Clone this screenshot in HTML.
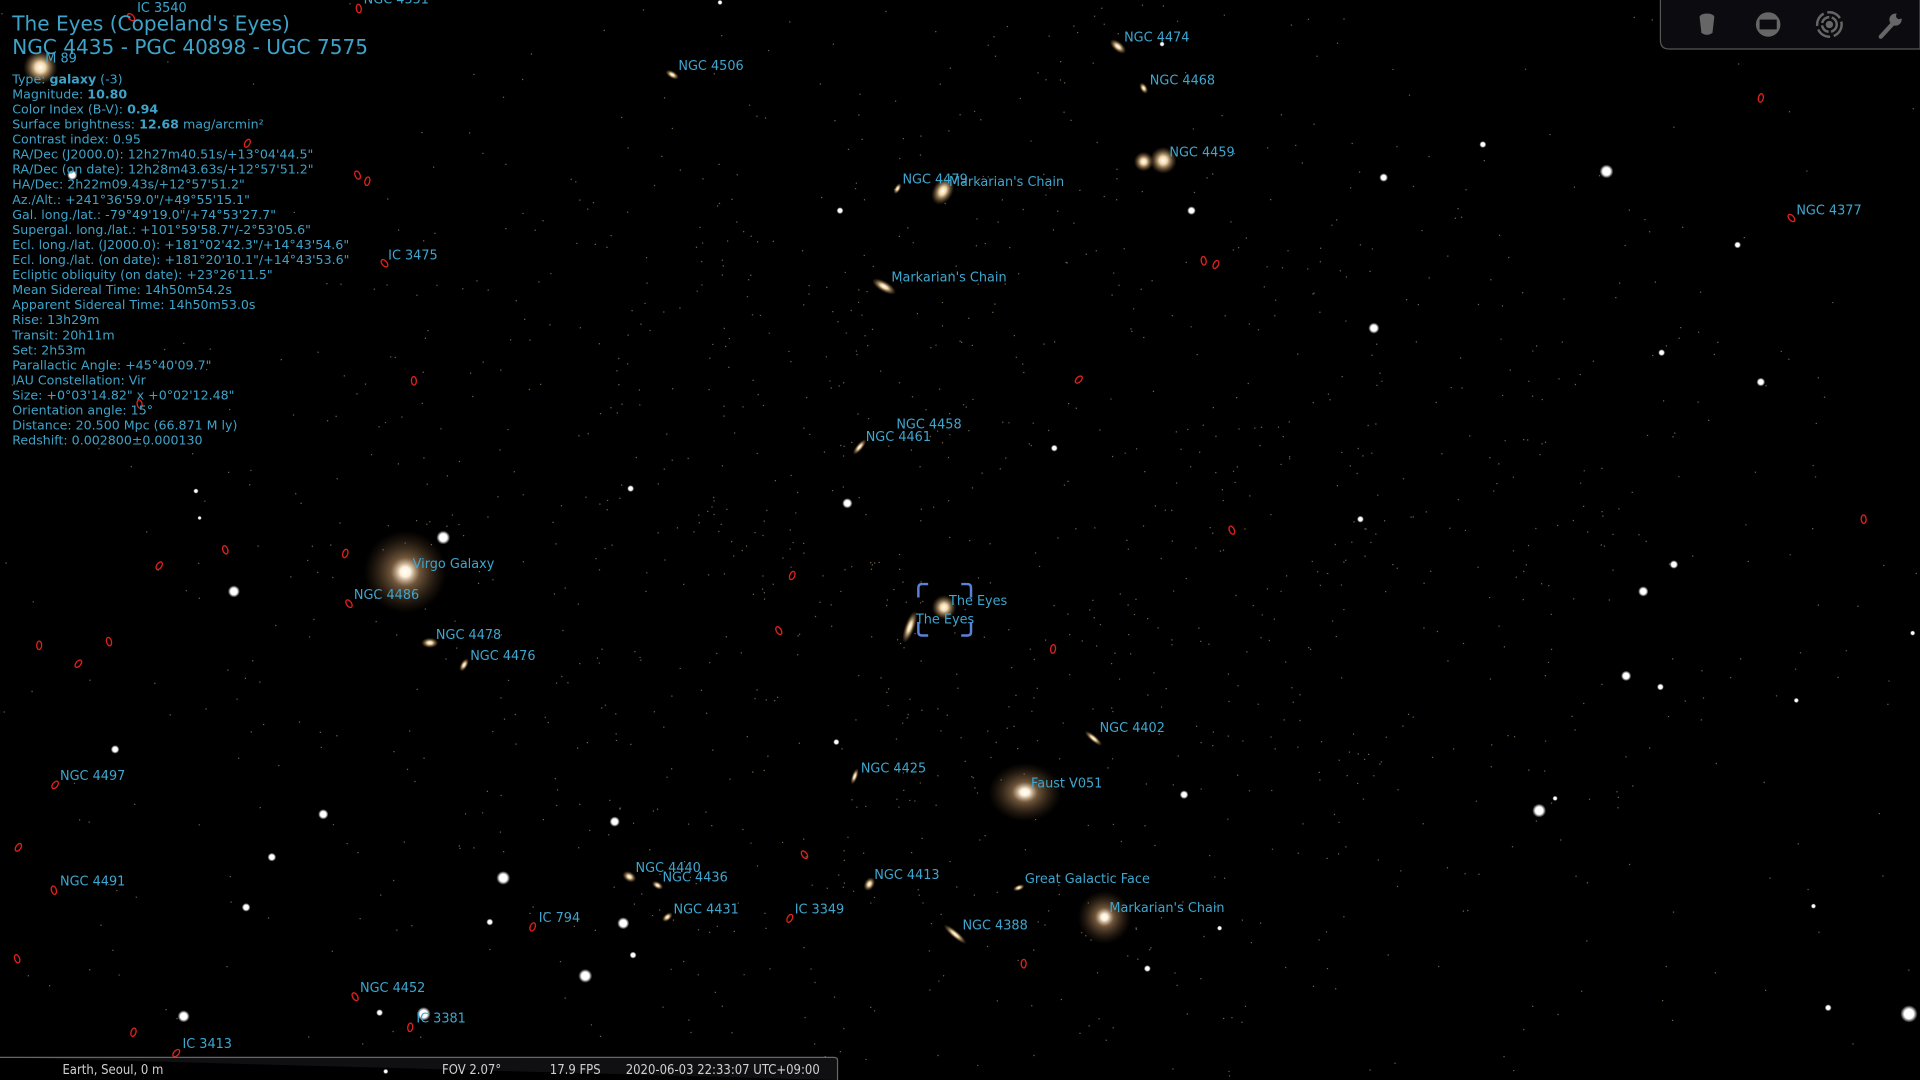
<!DOCTYPE html>
<html><head><meta charset="utf-8">
<style>
html,body{margin:0;padding:0;background:#000;width:1920px;height:1080px;overflow:hidden}
svg{display:block}
.lbl{font-family:"DejaVu Sans","Liberation Sans",sans-serif;font-size:10.5px;fill:#3ea6cf}
.info{font-family:"DejaVu Sans","Liberation Sans",sans-serif;font-size:10.3px;fill:#3ea3c8}
.ttl{font-family:"DejaVu Sans","Liberation Sans",sans-serif;font-size:16.4px;fill:#3ea3c8}
.bar{font-family:"DejaVu Sans Condensed","Liberation Sans Narrow","Liberation Sans",sans-serif;font-size:10.6px;fill:#d0d0d0}
</style></head>
<body>
<svg id="sky" width="1920" height="1080" viewBox="0 0 1568 882" xmlns="http://www.w3.org/2000/svg">
<defs>
<radialGradient id="gBig"><stop offset="0" stop-color="#fff"/><stop offset="0.12" stop-color="#fff2dc"/><stop offset="0.35" stop-color="#c89a6a" stop-opacity="0.55"/><stop offset="1" stop-color="#6a4a2a" stop-opacity="0"/></radialGradient>
<radialGradient id="gGal"><stop offset="0" stop-color="#fff"/><stop offset="0.3" stop-color="#f3d7a8"/><stop offset="1" stop-color="#8a6030" stop-opacity="0"/></radialGradient>
<radialGradient id="gStar"><stop offset="0" stop-color="#fff"/><stop offset="0.55" stop-color="#fff"/><stop offset="1" stop-color="#fff" stop-opacity="0"/></radialGradient>
</defs>
<rect width="1568" height="882" fill="#000"/>
<g id="dust"></g>
<g id="stars"></g>
<g id="gals"></g>
<g id="reds"></g>
<g id="labels"></g>

<g fill="none" stroke="#5a82d8" stroke-width="2">
<path d="M750 488 V480 Q750 477 753 477 H758"/>
<path d="M785 477 H790 Q793 477 793 480 V488"/>
<path d="M750 508 V516 Q750 519 753 519 H758"/>
<path d="M785 519 H790 Q793 519 793 516 V508"/>
</g>

<g>
<text class="ttl" x="10" y="25">The Eyes (Copeland's Eyes)</text>
<text class="ttl" x="10" y="44">NGC 4435 - PGC 40898 - UGC 7575</text>
<g id="info"></g>
</g>

<g>
<path d="M1356 0 V33 Q1356 40 1363 40 H1568 V0" fill="#0c0c10" stroke="#555" stroke-width="1"/>
<g fill="#666"><ellipse cx="1394" cy="14" rx="6" ry="3"/><path d="M1388 14 L1389.5 27 Q1394 30 1398.5 27 L1400 14 Z"/></g>
<g><circle cx="1444" cy="20" r="10" fill="#666"/><rect x="1437" y="16" width="14" height="8" fill="#0c0c10"/></g>
<g fill="none" stroke="#666" stroke-width="2"><circle cx="1494" cy="20" r="10" stroke-dasharray="12 3"/><circle cx="1494" cy="20" r="6" stroke-dasharray="8 2"/><circle cx="1494" cy="20" r="2" fill="#666"/></g>
<g><path d="M1536 30 L1546 19" stroke="#666" stroke-width="3.5" stroke-linecap="round"/><circle cx="1548" cy="16" r="5" fill="#666"/><circle cx="1551" cy="13" r="2.6" fill="#0c0c10"/></g>
</g>

<g>
<path d="M0 863.5 H681 Q684 863.5 684 866 V882" fill="#101012" stroke="#666" stroke-width="1"/>
<text class="bar" x="51" y="877">Earth, Seoul, 0 m</text>
<text class="bar" x="361" y="877">FOV 2.07°</text>
<text class="bar" x="449" y="877">17.9 FPS</text>
<text class="bar" x="511" y="877">2020-06-03 22:33:07 UTC+09:00</text>
</g>
</svg>
<script>
const NS="http://www.w3.org/2000/svg";
const infoLines=["Type: <b>galaxy</b> (-3)","Magnitude: <b>10.80</b>","Color Index (B-V): <b>0.94</b>","Surface brightness: <b>12.68</b> mag/arcmin²","Contrast index: 0.95","RA/Dec (J2000.0): 12h27m40.51s/+13°04'44.5\"","RA/Dec (on date): 12h28m43.63s/+12°57'51.2\"","HA/Dec: 2h22m09.43s/+12°57'51.2\"","Az./Alt.: +241°36'59.0\"/+49°55'15.1\"","Gal. long./lat.: -79°49'19.0\"/+74°53'27.7\"","Supergal. long./lat.: +101°59'58.7\"/-2°53'05.6\"","Ecl. long./lat. (J2000.0): +181°02'42.3\"/+14°43'54.6\"","Ecl. long./lat. (on date): +181°20'10.1\"/+14°43'53.6\"","Ecliptic obliquity (on date): +23°26'11.5\"","Mean Sidereal Time: 14h50m54.2s","Apparent Sidereal Time: 14h50m53.0s","Rise: 13h29m","Transit: 20h11m","Set: 2h53m","Parallactic Angle: +45°40'09.7\"","IAU Constellation: Vir","Size: +0°03'14.82\" x +0°02'12.48\"","Orientation angle: 15°","Distance: 20.500 Mpc (66.871 M ly)","Redshift: 0.002800±0.000130"];
const infoG=document.getElementById('info');
infoLines.forEach((s,i)=>{
  const t=document.createElementNS(NS,'text');
  t.setAttribute('class','info');t.setAttribute('x',10);t.setAttribute('y',68+i*12.3);
  
  
  t.innerHTML=s.replace(/<b>/g,'<tspan font-weight="bold">').replace(/<\/b>/g,'</tspan>');
  infoG.appendChild(t);
});
const labelNames=["IC 3540","NGC 4551","M 89","NGC 4506","NGC 4474","NGC 4468","NGC 4459","NGC 4479","Markarian's Chain","NGC 4377","IC 3475","Markarian's Chain","NGC 4458","NGC 4461","Virgo Galaxy","NGC 4486","NGC 4478","NGC 4476","The Eyes","The Eyes","NGC 4402","NGC 4425","Faust V051","NGC 4497","NGC 4491","NGC 4440","NGC 4436","NGC 4431","IC 3349","NGC 4413","Great Galactic Face","Markarian's Chain","NGC 4388","IC 794","NGC 4452","IC 3381","IC 3413"];
const labelX=[112,297,37,554,918,939,955,737,775,1467,317,728,732,707,337,289,356,384,775,748,898,703,842,49,49,519,541,550,649,714,837,906,786,440,294,340,149];
const labelY=[10,3,51,57,34,69,128,150,152,175,212,230,350,360,464,489,522,539,494,509,598,631,643,637,723,712,720,746,746,718,721,745,759,753,810,835,856];
const LG=document.getElementById('labels');
labelNames.forEach((n,i)=>{
  const t=document.createElementNS(NS,'text');
  t.setAttribute('class','lbl');t.setAttribute('x',labelX[i]);t.setAttribute('y',labelY[i]);
  
  
  t.textContent=n;LG.appendChild(t);
});
const galX=[331,837,902,33,770,722,950,934,913,549,733,702,351,379,893,698,780,710,832,514,537,545,743,771,934];
const galY=[467,647,749,55,156,234,131,132,38,61,154,365,525,543,603,634,763,722,725,716,723,749,512,496,72];
const galR=[34,30,22,14,12,11,11,8,8,6,5,8,7,6,9,7,12,6,5,6,5,5,14,10,5];
const galRot=[0,0,0,0,-60,30,0,0,40,30,-60,-50,0,-60,40,-70,40,-60,-20,30,30,-40,-70,0,60];
const galAsp=[1,0.8,1,1,0.7,0.4,1,1,0.5,0.5,0.5,0.35,0.6,0.5,0.3,0.35,0.25,0.7,0.5,0.7,0.6,0.6,0.3,1,0.6];
const GG=document.getElementById('gals');
galX.forEach((x,i)=>{
  const e=document.createElementNS(NS,'ellipse');
  e.setAttribute('cx',x);e.setAttribute('cy',galY[i]);
  e.setAttribute('rx',galR[i]);e.setAttribute('ry',galR[i]*galAsp[i]);
  e.setAttribute('transform',`rotate(${galRot[i]} ${x} ${galY[i]})`);
  e.setAttribute('fill',galR[i]>20?'url(#gBig)':'url(#gGal)');
  
  
  GG.appendChild(e);
});
const redX=[107,293,202,292,300,314,338,130,184,282,285,32,64,89,647,636,860,881,983,993,1006,1438,1463,1522,15,14,109,657,836,45,44,435,290,335,144,114,645];
const redY=[14,7,117,143,148,215,311,462,449,452,493,527,542,524,470,515,530,310,213,216,433,80,178,424,692,783,843,698,787,641,727,757,814,839,860,330,750];
const RG=document.getElementById('reds');
redX.forEach((x,i)=>{
  const e=document.createElementNS(NS,'ellipse');
  e.setAttribute('cx',x);e.setAttribute('cy',redY[i]);e.setAttribute('rx',2);e.setAttribute('ry',3.5);
  e.setAttribute('transform',`rotate(${(i*37)%90-45} ${x} ${redY[i]})`);
  e.setAttribute('fill','none');e.setAttribute('stroke','#e0201c');e.setAttribute('stroke-width','1.1');
  
  
  RG.appendChild(e);
});
const starX=[59,160,362,191,515,692,686,861,973,1130,1312,1211,1419,1357,1438,1111,1367,1342,1328,1356,1467,1562,94,264,502,222,411,201,400,509,478,517,683,967,1257,1270,1481,1493,1559,937,996,150,310,163,588,949,346,315,1122];
const starY=[143,401,439,483,399,411,172,366,172,145,140,118,200,288,312,424,461,483,552,561,572,517,612,665,671,700,717,741,753,754,797,780,606,649,662,652,740,823,828,791,758,830,827,423,2,36,828,875,268];
const starR=[3,1.5,4,3.5,2,3,2,2,2.5,2.5,4,2,2,2,2.5,2,2.5,3,3,2,1.5,1.5,2.5,3,3,2.5,4,2.5,2,3.5,4,2,1.8,2.5,4,1.5,1.5,2,5,2,1.5,3.5,2,1.2,1.5,1.5,4,1.5,3.2];
const SG=document.getElementById('stars');
starX.forEach((x,i)=>{
  const c=document.createElementNS(NS,'circle');
  c.setAttribute('cx',x);c.setAttribute('cy',starY[i]);c.setAttribute('r',starR[i]*1.4);
  c.setAttribute('fill','url(#gStar)');
  
  
  SG.appendChild(c);
});
const DG=document.getElementById('dust');
let s=12345;function rnd(){s=(s*1103515245+12345)%2147483648;return s/2147483648;}
let d='';
for(let i=0;i<3200;i++){
  const x=rnd()*1568,y=rnd()*882;
  const cx=(x-800)/750,cy=(y-450)/520;
  if(rnd()>Math.max(0.12,1-(cx*cx+cy*cy)))continue;
  d+=`M${x.toFixed(1)} ${y.toFixed(1)}h1v1h-1z`;
}
const p=document.createElementNS(NS,'path');
p.setAttribute('d',d);p.setAttribute('fill','#9a8568');p.setAttribute('opacity','0.75');


DG.appendChild(p);
</script>
</body></html>
